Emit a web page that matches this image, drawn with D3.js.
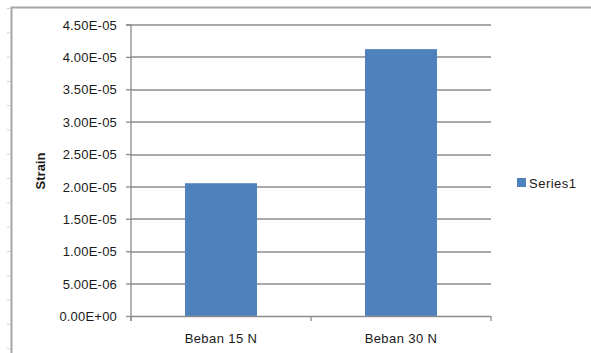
<!DOCTYPE html>
<meta charset="utf-8">
<html>
<script src="https://d3js.org/d3.v7.min.js"></script>
<style>
    body { margin: 0; background: #fff; }
    text { font-family: "Liberation Sans", Arial, sans-serif; fill: #1a1a1a; }
</style>
<body>
<div id="chart"></div>
<script>
    // chart data
    var categories = ["Beban 15 N", "Beban 30 N"];
    var series1 = [2.05e-5, 4.12e-5];
    var yTicks = [0, 5e-6, 1e-5, 1.5e-5, 2e-5, 2.5e-5, 3e-5, 3.5e-5, 4e-5, 4.5e-5];
    var seriesName = "Series1";

    var W = 591, H = 353;
    var margin = { top: 24.5, right: 100, bottom: 37, left: 131 };
    var width = 491 - margin.left,
        height = 316 - margin.top;

    var svg = d3.select("#chart").append("svg")
        .attr("width", W)
        .attr("height", H);

    // outer chart frame (only left and top edges are visible in the crop)
    svg.append("path")
        .attr("d", "M11.5," + H + "V7.5H" + W)
        .attr("fill", "none")
        .attr("stroke", "#a6a6a6")
        .attr("stroke-width", 2);

    // faint sheet row marks to the left of the frame
    svg.selectAll(".rowmark")
        .data(d3.range(0, 15))
        .enter().append("line")
        .attr("x1", 7).attr("x2", 10)
        .attr("y1", function (d) { return 8.5 + d * 24.3; })
        .attr("y2", function (d) { return 8.5 + d * 24.3; })
        .attr("stroke", "#d0d0d0");

    var g = svg.append("g")
        .attr("transform", "translate(" + margin.left + "," + margin.top + ")");

    var x = d3.scaleBand()
        .domain(categories)
        .range([0, width])
        .paddingInner(0.6)
        .paddingOuter(0.3);

    var y = d3.scaleLinear()
        .domain([0, 4.5e-5])
        .range([height, 0]);

    // gridlines
    g.selectAll(".grid")
        .data(yTicks.slice(1))
        .enter().append("line")
        .attr("x1", 0).attr("x2", width)
        .attr("y1", function (d) { return Math.round(y(d)) + 0.5; })
        .attr("y2", function (d) { return Math.round(y(d)) + 0.5; })
        .attr("stroke", "#8c8c8c")
        .attr("stroke-width", 1.3);

    // bars
    g.selectAll(".bar")
        .data(series1)
        .enter().append("rect")
        .attr("x", function (d, i) { return x(categories[i]); })
        .attr("y", function (d) { return y(d); })
        .attr("width", x.bandwidth())
        .attr("height", function (d) { return height - y(d); })
        .attr("fill", "#4f81bd");

    // y axis
    var yAxis = g.append("g")
        .call(d3.axisLeft(y).tickValues(yTicks).tickSize(5).tickPadding(9)
            .tickFormat(function (d) {
                return d.toExponential(2).toUpperCase().replace(/E([+-])(\d)$/, "E$10$2");
            }));
    yAxis.select(".domain").attr("stroke", "#8c8c8c").attr("stroke-width", 1.3)
        .attr("d", "M-5,0.5H0V" + (height + 5));
    yAxis.selectAll(".tick line").attr("stroke", "#8c8c8c").attr("stroke-width", 1.3);
    yAxis.selectAll("text").style("font-size", "13px").style("letter-spacing", "0.2px").attr("dy", "0.35em");

    // x axis
    var xAxis = g.append("g")
        .attr("transform", "translate(0," + height + ")")
        .call(d3.axisBottom(x).tickSize(0).tickPadding(18));
    xAxis.select(".domain").attr("stroke", "#8c8c8c").attr("stroke-width", 1.3)
        .attr("d", "M0,0.5H" + width);
    xAxis.selectAll(".tick text").style("font-size", "13px").style("letter-spacing", "0.4px");
    // category separators
    xAxis.selectAll(".sep")
        .data([0, width / 2, width])
        .enter().append("line")
        .attr("x1", function (d) { return d; }).attr("x2", function (d) { return d; })
        .attr("y1", 0).attr("y2", 5)
        .attr("stroke", "#8c8c8c").attr("stroke-width", 1.3);

    // y axis title
    svg.append("text")
        .attr("transform", "translate(45,171) rotate(-90)")
        .attr("text-anchor", "middle")
        .style("font-size", "13px")
        .style("font-weight", "bold")
        .text("Strain");

    // legend
    var legend = svg.append("g").attr("transform", "translate(517,178)");
    legend.append("rect").attr("width", 9).attr("height", 9).attr("fill", "#4f81bd");
    legend.append("text").attr("x", 12).attr("y", 9.5)
        .style("font-size", "13px").style("letter-spacing", "0.5px")
        .text(seriesName);
</script>
</body>
</html>
